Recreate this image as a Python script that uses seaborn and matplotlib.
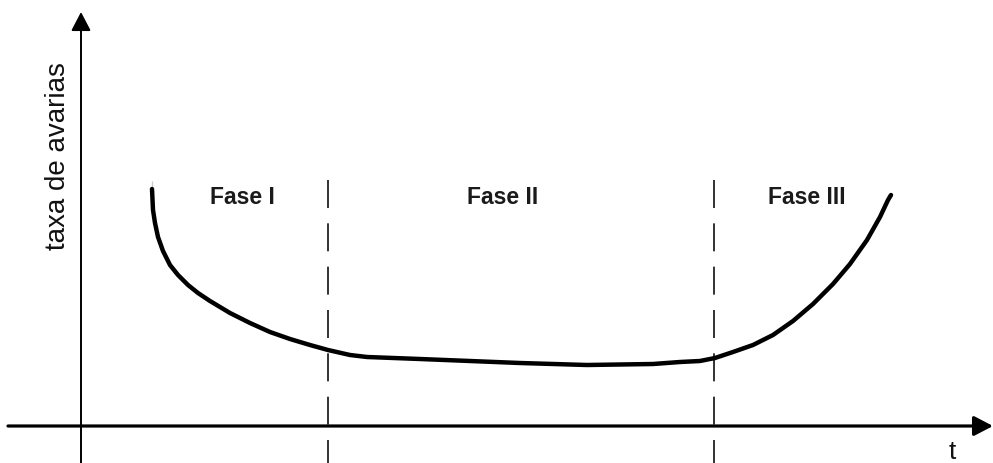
import matplotlib
matplotlib.use("Agg")
import matplotlib.pyplot as plt
import pandas as pd
import seaborn as sns

# bathtub curve (t, failure rate) in arbitrary units
t_vals = [71, 71, 72, 74, 77, 82, 89, 97, 107, 117, 129, 149, 169, 189, 209, 229, 247,
          269, 286, 339, 439, 506, 572, 599, 619,
          634, 652, 672, 692, 712, 732, 752, 769, 786, 799, 807, 810]
rate_vals = [245, 229, 216, 203, 189, 175, 161, 151, 141, 133, 125, 113, 103, 94, 87, 81, 76,
             71, 69, 67, 63, 61, 62, 64, 65,
             68, 74, 81, 91, 105, 122, 142, 162, 186, 209, 226, 231]

phase_bounds = [247, 633]
phase_labels = ["Fase I", "Fase II", "Fase III"]
phase_label_t = [161, 422, 726]

curve = pd.DataFrame({"t": t_vals, "taxa": rate_vals})

sns.set_theme(style="white")
plt.rcParams["font.family"] = ["Liberation Sans", "DejaVu Sans"]

fig = plt.figure(figsize=(9.93, 4.63), dpi=100)
ax = fig.add_axes([0, 0, 1, 1])
ax.set_xlim(-81, 912)
ax.set_ylim(-37, 426)
ax.axis("off")

# hand-drawn style axes with arrow heads
arrow = dict(arrowstyle="-|>,head_length=1.15,head_width=0.6", mutation_scale=10,
             color="black", shrinkA=0, shrinkB=0)
ax.annotate("", xy=(912, 0), xytext=(-73, 0), arrowprops=dict(arrow, lw=2.3))
ax.annotate("", xy=(0, 414), xytext=(0, -37), arrowprops=dict(arrow, lw=1.4))

# phase separators
for b in phase_bounds:
    ax.plot([b, b], [246, -37], color="#222222", lw=1.3, linestyle=(0, (15.5, 8.5)))

sns.lineplot(data=curve, x="t", y="taxa", sort=False, color="black", lw=3.2, ax=ax,
             solid_capstyle="round", solid_joinstyle="round")

for lab, x in zip(phase_labels, phase_label_t):
    ax.text(x, 229, lab, ha="center", va="center", fontsize=16.5,
            fontweight="bold", color="#1a1a1a")

ax.text(-23, 270, "taxa de avarias", rotation=90, ha="center", va="center",
        fontsize=20, color="#111111")
ax.text(871, -26, "t", ha="center", va="center", fontsize=19, color="#111111")

fig.savefig("out.png", dpi=100)
